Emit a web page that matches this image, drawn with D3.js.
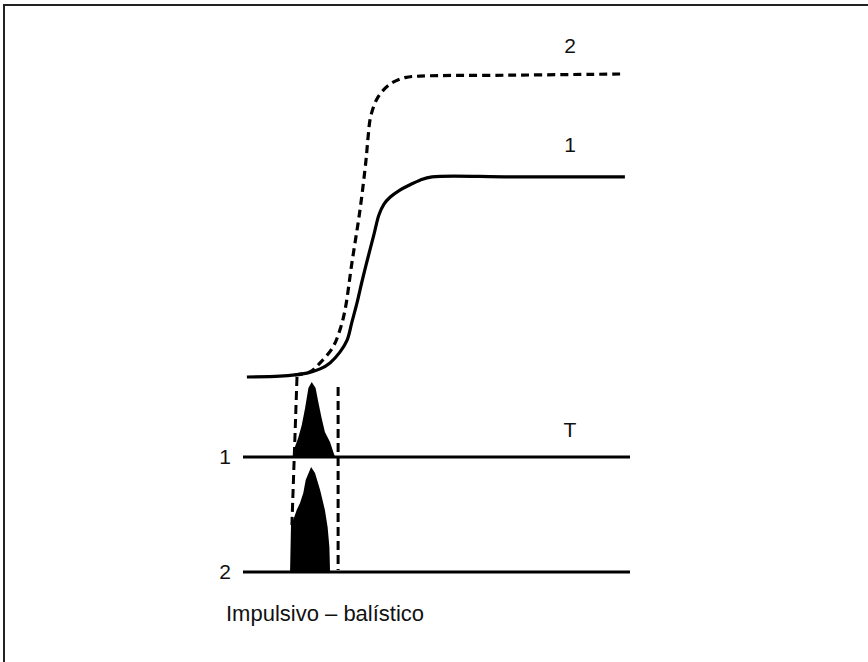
<!DOCTYPE html>
<html lang="es">
<head>
<meta charset="utf-8">
<title>Impulsivo – balístico</title>
<script src="https://cdn.jsdelivr.net/npm/d3@7"></script>
<style>
  body { margin: 0; background: #fff; }
  text { font-family: "Liberation Sans", Arial, sans-serif; fill: #111; }
</style>
</head>
<body>
<script>
// time axis in arbitrary units, response in % of full scale
const curve1 = [[2.3,0],[13.3,0.3],[18.3,0.7],[22.3,1.3],[26.7,2.7],[30,4.7],[33.3,8.3],[35.7,12.3],
  [37.3,18.3],[39,24.7],[40.7,32],[42.7,40],[44.7,47.7],[46.3,54],[48,57.6],[50,59.9],[53.3,62.3],
  [56.5,64],[60,65.6],[64,66.7],[90,66.7],[128.3,66.7]];
const curve2 = [[18.3,0.7],[23.3,1.7],[26.7,4.7],[31,10],[33.3,15.7],[35,22.3],[37.3,38],[40,55.7],
  [42,72.3],[42.7,80],[43.6,87],[46,93.3],[50,97.6],[55,99.8],[60,100.3],[90,100.6],[126.7,101]];

// input pulses (amplitude above each trace baseline)
const pulse1 = [[17.6,0],[17.8,2],[18.3,10],[19.4,19],[20.6,32],[21.7,49],[22.8,69],[23.9,75],
  [25.2,69],[26.1,55],[27.2,39],[28.3,25],[30,15],[31.1,5],[31.7,0]];
const pulse2 = [[16.7,0],[16.7,2],[17,47],[18.1,55],[18.9,62],[20,69],[21.1,79],[21.9,92],[23.7,105],
  [25,99],[26.7,82],[28.3,62],[29.2,45],[29.8,25],[30,2],[30,0]];

const traceSpan = [1, 130];
const cursorLeft = [[19, 0], [17.3, 47]];   // [x, pulse2 amplitude at end]
const cursorRight = [32.7, 70, 2];          // x, pulse1 amp top, pulse2 amp bottom

const curveLabels = [{t: "2", x: 110, y: 108}, {t: "1", x: 110, y: 75}];
const traceLabels = ["1", "2"];
const caption = "Impulsivo – balístico";

const w = 868, h = 662;

const svg = d3.select("body").append("svg")
  .attr("width", w).attr("height", h);

// frame
svg.append("path")
  .attr("d", "M4,662V5H868")
  .attr("fill", "none").attr("stroke", "#222").attr("stroke-width", 2);

const x = d3.scaleLinear().domain([0, 130]).range([240, 630]);
const y = d3.scaleLinear().domain([0, 100]).range([377, 77]);
const yP1 = d3.scaleLinear().domain([0, 100]).range([457, 357]);
const yP2 = d3.scaleLinear().domain([0, 100]).range([572, 472]);

const line = d3.line().x(d => x(d[0])).y(d => y(d[1])).curve(d3.curveCatmullRom.alpha(0.5));

svg.append("path").attr("d", line(curve1))
  .attr("fill", "none").attr("stroke", "#000").attr("stroke-width", 3.2);
svg.append("path").attr("d", line(curve2))
  .attr("fill", "none").attr("stroke", "#000").attr("stroke-width", 3.2)
  .attr("stroke-dasharray", "8,5");

// pulse traces
[[pulse1, yP1], [pulse2, yP2]].forEach(([p, ys], i) => {
  svg.append("path")
    .attr("d", d3.area().x(d => x(d[0])).y0(ys(0)).y1(d => ys(d[1]))(p))
    .attr("fill", "#000");
  svg.append("line")
    .attr("x1", x(traceSpan[0])).attr("x2", x(traceSpan[1]))
    .attr("y1", ys(0)).attr("y2", ys(0))
    .attr("stroke", "#000").attr("stroke-width", 3);
  svg.append("text")
    .attr("x", x(traceSpan[0]) - 12).attr("y", ys(0) + 7)
    .attr("text-anchor", "end").attr("font-size", 21)
    .text(traceLabels[i]);
});

// dashed cursors
svg.append("line")
  .attr("x1", x(cursorLeft[0][0])).attr("y1", y(cursorLeft[0][1]))
  .attr("x2", x(cursorLeft[1][0])).attr("y2", yP2(cursorLeft[1][1]))
  .attr("stroke", "#000").attr("stroke-width", 3).attr("stroke-dasharray", "9,5");
svg.append("line")
  .attr("x1", x(cursorRight[0])).attr("y1", yP1(cursorRight[1]))
  .attr("x2", x(cursorRight[0])).attr("y2", yP2(cursorRight[2]))
  .attr("stroke", "#000").attr("stroke-width", 3).attr("stroke-dasharray", "9,5");

// labels
curveLabels.forEach(l => {
  svg.append("text").attr("x", x(l.x)).attr("y", y(l.y))
    .attr("text-anchor", "middle").attr("font-size", 21).text(l.t);
});
svg.append("text").attr("x", x(110)).attr("y", yP1(20))
  .attr("text-anchor", "middle").attr("font-size", 21).text("T");

svg.append("text").attr("x", 226).attr("y", 621)
  .attr("font-size", 22).text(caption);
</script>
</body>
</html>
